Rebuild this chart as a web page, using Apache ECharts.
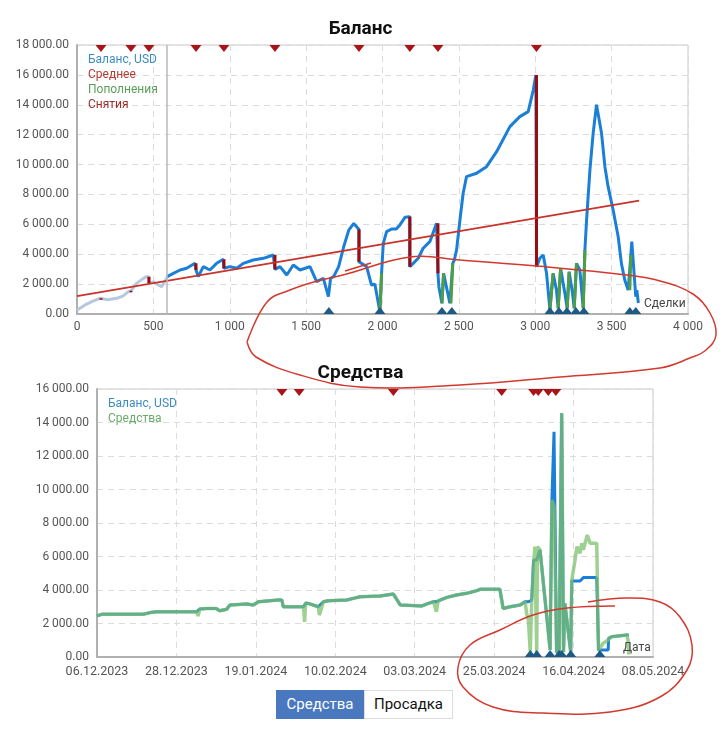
<!DOCTYPE html>
<html>
<head>
<meta charset="utf-8">
<script src="https://cdn.jsdelivr.net/npm/echarts@6/dist/echarts.min.js"></script>
<style>
html, body { margin: 0; padding: 0; background: #fff; }
#chart { width: 721px; height: 750px; }
.tabs { position: absolute; left: 276px; top: 690px; display: flex; font-family: Roboto, sans-serif; font-size: 15px; }
.tabs div { height: 29px; line-height: 29px; text-align: center; box-sizing: border-box; }
.tabs .on { width: 88px; background: #4a78bf; color: #fff; }
.tabs .off { width: 89px; background: #fff; color: #111; border: 1px solid #ddd; line-height: 27px; }
</style>
</head>
<body>
<div id="chart"></div>
<div class="tabs"><div class="on">Средства</div><div class="off">Просадка</div></div>
<script>
// ---- Баланс (по сделкам) ----
var tradeX = [0, 30, 60, 100, 150, 157, 157, 200, 259, 300, 336, 353, 353, 390, 430, 456, 471, 471, 500, 532, 554, 587,
    590, 631, 675, 718, 772, 779, 779, 794, 827, 870, 914, 958, 962, 962, 1001, 1045, 1089, 1154, 1220, 1285, 1296, 1296,
    1329, 1373, 1416, 1460, 1525, 1569, 1613, 1646, 1660, 1680, 1713, 1746, 1779, 1812, 1846, 1846, 1852, 1896, 1928, 1950,
    1983, 1994, 2005, 2027, 2060, 2090, 2114, 2147, 2179, 2179, 2201, 2234, 2266, 2310, 2354, 2363, 2363, 2369, 2389, 2400,
    2441, 2448, 2460, 2470, 2485, 2507, 2528, 2550, 2616, 2648, 2681, 2747, 2834, 2899, 2954, 2987, 3004, 3008, 3009, 3030,
    3052, 3074, 3096, 3117, 3139, 3150, 3166, 3194, 3209, 3222, 3244, 3255, 3270, 3292, 3314, 3325, 3336, 3358, 3379, 3401,
    3434, 3456, 3477, 3510, 3543, 3564, 3586, 3608, 3619, 3626, 3632, 3645, 3658, 3665, 3675];
var tradeBalance = [270, 450, 650, 850, 1050, 1050, 950, 950, 1050, 1200, 1500, 1550, 1450, 2050, 2350, 2500, 2500, 2080, 2150, 1940, 1830, 2390,
    2500, 2720, 2945, 3057, 3390, 3390, 2950, 2500, 3170, 2945, 3390, 3660, 3660, 3057, 3170, 3057, 3390, 3615, 3725, 3950, 3950, 2990,
    3170, 2610, 3280, 2945, 3170, 2165, 2390, 1165, 2390, 2500, 3170, 4500, 5610, 6060, 5650, 3500, 3390, 3170, 1940, 2000,
    155, 2720, 4730, 5510, 5690, 5690, 5960, 6470, 6510, 3170, 3390, 3730, 4400, 4840, 6070, 6070, 2720, 1830, 715, 2720,
    715, 715, 3390, 3610, 4290, 6290, 8080, 9190, 9420, 9640, 9860, 10860, 12540, 13210, 13540, 14990, 16000, 16000, 3170, 3730,
    3950, 2720, 300, 2720, 1600, 380, 3060, 1380, 380, 2830, 1380, 380, 3390, 2945, 380, 4280, 6290, 9640, 12090, 14000,
    12090, 9860, 8520, 6960, 5170, 3390, 2280, 1600, 1600, 3950, 4840, 4730, 1160, 1600, 735];
var historyEnd = 590;               // серая граница истории
var avgTrades = [0, 3680];
var avgValues = [1200, 7590];
var depositStart = [1983, 2389, 2448, 3096, 3150, 3209, 3255, 3314, 3619];
var depositEnd = [1994, 2400, 2460, 3117, 3166, 3222, 3270, 3325, 3626];
var depositLow = [155, 715, 715, 300, 380, 380, 380, 380, 1600];
var depositHigh = [2720, 2720, 3390, 2720, 3060, 2830, 3390, 4280, 3950];
var withdrawTrades = [157, 353, 471, 779, 962, 1296, 1846, 2179, 2363, 3008];
var withdrawHigh = [1050, 1550, 2500, 3390, 3660, 3950, 5650, 6510, 6070, 16000];
var withdrawLow = [950, 1450, 2080, 2950, 3057, 2990, 3500, 3170, 2720, 3170];
var depositMarkTrades = [1649, 1983, 2389, 2454, 3096, 3155, 3207, 3266, 3318, 3619, 3658];

// ---- Средства (по датам) ----
var eqDates = ['2023-12-06', '2023-12-07 07', '2023-12-18 19', '2023-12-20 17', '2023-12-22 12', '2024-01-02 14', '2024-01-03',
    '2024-01-03 12', '2024-01-05 10', '2024-01-08', '2024-01-09', '2024-01-10 22', '2024-01-11 19', '2024-01-16 12', '2024-01-18 07',
    '2024-01-19 17', '2024-01-22 22', '2024-01-25 05', '2024-01-26 05', '2024-01-26 14', '2024-01-31 05', '2024-02-01 05',
    '2024-02-01 12', '2024-02-01 19', '2024-02-02 12', '2024-02-05 07', '2024-02-05 14', '2024-02-06 17', '2024-02-08',
    '2024-02-13 05', '2024-02-15', '2024-02-16 22', '2024-02-22 10', '2024-02-26 02', '2024-02-28', '2024-03-05', '2024-03-06 19',
    '2024-03-08 05', '2024-03-09', '2024-03-09 12', '2024-03-11 22', '2024-03-14 14', '2024-03-17 10', '2024-03-20 05',
    '2024-03-21 02', '2024-03-26 14', '2024-03-27 12', '2024-03-29 10', '2024-04-01 05', '2024-04-02 14', '2024-04-03',
    '2024-04-03 12', '2024-04-04', '2024-04-04 10', '2024-04-04 22', '2024-04-05 07', '2024-04-05 19', '2024-04-06',
    '2024-04-06 17', '2024-04-09 12', '2024-04-10', '2024-04-10 14', '2024-04-11 07', '2024-04-12', '2024-04-12 17',
    '2024-04-13 05', '2024-04-13 14', '2024-04-15 05', '2024-04-15 12', '2024-04-16 10', '2024-04-16 22', '2024-04-17 19',
    '2024-04-18 07', '2024-04-18 17', '2024-04-19 05', '2024-04-19 19', '2024-04-20 14', '2024-04-22 10', '2024-04-22 22',
    '2024-04-23 07', '2024-04-24 05', '2024-04-25 14', '2024-04-25 17', '2024-04-26 12', '2024-04-30 19', '2024-05-01 02',
    '2024-05-01 07'];
var eqBalance = [2450, 2550, 2550, 2650, 2700, 2700, 2700, 2870, 2900, 2900, 2760, 2850, 3100, 3160, 3100, 3300, 3360, 3400,
    3400, 3000, 3000, 3000, 3000, 3200, 3200, 3000, 3000, 3300, 3360, 3400, 3500, 3600, 3640, 3760, 3100, 3050, 3200, 3300,
    3300, 3350, 3560, 3700, 3800, 3960, 4040, 4040, 2900, 3000, 3100, 3300, 3300, 3300, 3300, 3400, 5790, 5790, 5790, 5790,
    6390, 420, 9370, 13450, 300, 300, 14550, 300, 3200, 300, 4540, 4540, 4540, 4540, 4540, 4740, 4740, 4740, 4740, 4740,
    420, 420, 420, 420, 1110, 1210, 1310, 1310, 1310];
var eqEquity = [2450, 2550, 2550, 2650, 2700, 2700, 2450, 2870, 2900, 2900, 2760, 2850, 3100, 3160, 3100, 3300, 3360, 3400,
    3380, 3000, 3000, 3000, 2100, 3250, 3200, 3000, 2500, 3300, 3360, 3400, 3500, 3600, 3640, 3760, 3100, 3050, 3200, 3300,
    2700, 3350, 3560, 3700, 3800, 3960, 4040, 4040, 2900, 3000, 3100, 3300, 2600, 2200, 320, 3400, 5500, 6590, 300, 6590,
    6390, 420, 9370, 9000, 300, 300, 14550, 300, 3200, 300, 4600, 5790, 6590, 6200, 6790, 6400, 6400, 7280, 6790, 6790,
    400, 520, 820, 1010, 1110, 1210, 1310, 1000, 150];
var eqWithdrawDates = ['2024-01-26 05', '2024-01-31', '2024-02-26 02', '2024-03-27 02', '2024-04-04 22', '2024-04-06 05',
    '2024-04-09', '2024-04-11 02'];
var eqDepositDates = ['2024-04-04', '2024-04-05 19', '2024-04-09 12', '2024-04-12', '2024-04-12 17', '2024-04-15 05',
    '2024-04-23 07'];
var dateStart = '2023-12-06';
var dateEnd = '2024-05-08';
var dateStepDays = 22;

// ---- helpers ----
function pad(n) { return n < 10 ? '0' + n : '' + n; }
function spaced(s) { return s.replace(/\B(?=(\d{3})+(?!\d))/g, ' '); }
function fmtMoney(v) { return spaced(v.toFixed(2)); }
var t0 = parseDate(dateStart);
function parseDate(s) {
    var p = s.split(' '), d = p[0].split('-');
    return Date.UTC(+d[0], +d[1] - 1, +d[2], p[1] ? +p[1] : 0);
}
function dayOf(s) { return (parseDate(s) - t0) / 864e5; }
function fmtDate(v) {
    var d = new Date(t0 + Math.round(v) * 864e5);
    return pad(d.getUTCDate()) + '.' + pad(d.getUTCMonth() + 1) + '.' + d.getUTCFullYear();
}

var chart = echarts.init(document.getElementById('chart'));

var balancePts = tradeX.map(function (x, i) { return [x, tradeBalance[i]]; });
var lightPts = balancePts.filter(function (p) { return p[0] <= historyEnd; });
var darkPts = balancePts.filter(function (p) { return p[0] >= historyEnd; });
var eqBalPts = eqDates.map(function (d, i) { return [dayOf(d), eqBalance[i]]; });
var eqEqPts = eqDates.map(function (d, i) { return [dayOf(d), eqEquity[i]]; });
var dayMax = dayOf(dateEnd);

// отдельные короткие отрезки пополнений и снятий
function segment(name, color, a, b) {
    return {
        name: name, type: 'line', xAxisIndex: 0, yAxisIndex: 0, data: [a, b], z: 3,
        showSymbol: false, silent: true, lineStyle: { color: color, width: 3 }
    };
}
var depositSeries = depositStart.map(function (x, i) {
    return segment('Пополнения', '#4f9e43', [x, depositLow[i]], [depositEnd[i], depositHigh[i]]);
});
var withdrawSeries = withdrawTrades.map(function (x, i) {
    return segment('Снятия', '#9c0c0c', [x, withdrawHigh[i]], [x, withdrawLow[i]]);
});

var labelStyle = { color: '#555', fontSize: 12, fontFamily: 'Roboto' };
var split = { show: true, lineStyle: { color: '#dcdcdc', type: [6, 5] } };
var axisLn = { lineStyle: { color: '#b0b0b0', width: 2 } };
var red = '#d2392f';

var option = {
    animation: false,
    title: [
        { text: 'Баланс', left: 'center', top: 15, textStyle: { fontSize: 19, fontWeight: 'bold', color: '#111', fontFamily: 'Roboto' } },
        { text: 'Средства', left: 'center', top: 359, textStyle: { fontSize: 19, fontWeight: 'bold', color: '#111', fontFamily: 'Roboto' } }
    ],
    legend: [
        {
            left: 78, top: 49, orient: 'vertical', icon: 'none', itemWidth: 0, itemHeight: 0, itemGap: 3,
            textStyle: { fontSize: 12, fontFamily: 'Roboto' }, selectedMode: false,
            data: [
                { name: 'Баланс, USD', textStyle: { color: '#3d8cbf' } },
                { name: 'Среднее', textStyle: { color: '#b23a33' } },
                { name: 'Пополнения', textStyle: { color: '#5b9e5b' } },
                { name: 'Снятия', textStyle: { color: '#9e2a2a' } }
            ]
        },
        {
            left: 98, top: 393, orient: 'vertical', icon: 'none', itemWidth: 0, itemHeight: 0, itemGap: 3,
            textStyle: { fontSize: 12, fontFamily: 'Roboto' }, selectedMode: false,
            data: [
                { name: 'Баланс, USD ', textStyle: { color: '#3d8cbf' } },
                { name: 'Средства', textStyle: { color: '#6aaa6a' } }
            ]
        }
    ],
    grid: [
        { left: 77, top: 45, width: 611, height: 269, show: true, borderColor: '#c8c8c8', borderWidth: 1 },
        { left: 97, top: 389, width: 556, height: 268, show: true, borderColor: '#c8c8c8', borderWidth: 1 }
    ],
    xAxis: [
        {
            type: 'value', gridIndex: 0, min: 0, max: 4000, interval: 500,
            axisLine: axisLn, axisTick: { show: false }, splitLine: split,
            axisLabel: Object.assign({ margin: 7, formatter: function (v) { return spaced(String(v)); } }, labelStyle)
        },
        {
            type: 'value', gridIndex: 1, min: 0, max: dayMax, interval: dateStepDays,
            axisLine: axisLn, axisTick: { show: false }, splitLine: split,
            axisLabel: Object.assign({}, labelStyle, { margin: 8, fontSize: 12.5, formatter: fmtDate })
        }
    ],
    yAxis: [
        {
            type: 'value', gridIndex: 0, min: 0, max: 18000, interval: 2000,
            axisLine: Object.assign({ show: true }, axisLn), axisTick: { show: false }, splitLine: split,
            axisLabel: Object.assign({ margin: 8, formatter: fmtMoney }, labelStyle)
        },
        {
            type: 'value', gridIndex: 1, min: 0, max: 16000, interval: 2000,
            axisLine: Object.assign({ show: true }, axisLn), axisTick: { show: false }, splitLine: split,
            axisLabel: Object.assign({ margin: 8, formatter: fmtMoney }, labelStyle)
        }
    ],
    series: [
        {
            name: 'Баланс, USD', type: 'line', xAxisIndex: 0, yAxisIndex: 0, data: lightPts,
            showSymbol: false, lineStyle: { color: '#b5c8dd', width: 3 }, itemStyle: { color: '#3d8cbf' },
            markLine: {
                silent: true, symbol: 'none', label: { show: false },
                lineStyle: { color: '#b8b8b8', width: 1.5, type: 'solid' },
                data: [{ xAxis: historyEnd }]
            }
        },
        {
            name: 'Баланс, USD', type: 'line', xAxisIndex: 0, yAxisIndex: 0, data: darkPts,
            showSymbol: false, lineStyle: { color: '#1b7fd8', width: 3 }, itemStyle: { color: '#3d8cbf' }
        },
        {
            name: 'Среднее', type: 'line', xAxisIndex: 0, yAxisIndex: 0, z: 4,
            data: avgTrades.map(function (x, i) { return [x, avgValues[i]]; }),
            showSymbol: false, lineStyle: { color: '#c8332c', width: 1.8 }, itemStyle: { color: '#b23a33' }
        },
        {
            type: 'scatter', xAxisIndex: 0, yAxisIndex: 0, silent: true, z: 5,
            data: withdrawTrades.map(function (x) { return [x, 18000]; }),
            symbol: 'triangle', symbolRotate: 180, symbolSize: [11, 7], symbolOffset: [0, 3.5],
            itemStyle: { color: '#a8141a', opacity: 1 }
        },
        {
            type: 'scatter', xAxisIndex: 0, yAxisIndex: 0, silent: true, z: 5,
            data: depositMarkTrades.map(function (x) { return [x, 0]; }),
            symbol: 'triangle', symbolSize: [11, 7], symbolOffset: [0, -3.5],
            itemStyle: { color: '#1d5b86', opacity: 1 }
        },
        {
            name: 'Баланс, USD ', type: 'line', xAxisIndex: 1, yAxisIndex: 1, data: eqBalPts,
            showSymbol: false, lineStyle: { color: '#1b7fd8', width: 3 }, itemStyle: { color: '#3d8cbf' }
        },
        {
            name: 'Средства', type: 'line', xAxisIndex: 1, yAxisIndex: 1, data: eqEqPts,
            showSymbol: false, lineStyle: { color: '#7cc06c', width: 3.5, opacity: 0.75 }, itemStyle: { color: '#6aaa6a' }
        },
        {
            type: 'scatter', xAxisIndex: 1, yAxisIndex: 1, silent: true, z: 5,
            data: eqWithdrawDates.map(function (d) { return [dayOf(d), 16000]; }),
            symbol: 'triangle', symbolRotate: 180, symbolSize: [11, 7], symbolOffset: [0, 3.5],
            itemStyle: { color: '#a8141a', opacity: 1 }
        },
        {
            type: 'scatter', xAxisIndex: 1, yAxisIndex: 1, silent: true, z: 5,
            data: eqDepositDates.map(function (d) { return [dayOf(d), 0]; }),
            symbol: 'triangle', symbolSize: [11, 7], symbolOffset: [0, -3.5],
            itemStyle: { color: '#1d5b86', opacity: 1 }
        }
    ].concat(depositSeries, withdrawSeries),
    graphic: [
        { type: 'text', left: 644, top: 298, z: 10, style: { text: 'Сделки', fill: '#444', font: '12px Roboto' } },
        { type: 'text', left: 623, top: 642, z: 10, style: { text: 'Дата', fill: '#444', font: '12px Roboto' } },
        // пометки от руки
        {
            type: 'polyline', z: 20, silent: true,
            shape: { smooth: 0.4, points: [[247, 342], [267, 302], [290, 290], [317, 281], [343, 275], [410, 257], [460, 260],
                [537, 266], [627, 275], [660, 281], [693, 294], [710, 313], [716, 335], [706, 350], [690, 358], [660, 368],
                [560, 377], [460, 385], [360, 387], [300, 375], [256, 357], [247, 342]] },
            style: { stroke: red, lineWidth: 1.5, fill: null }
        },
        {
            type: 'polyline', z: 20, silent: true,
            shape: { points: [[345, 271], [371, 263]] },
            style: { stroke: red, lineWidth: 1.5, fill: null }
        },
        {
            type: 'polyline', z: 20, silent: true,
            shape: { smooth: 0.4, points: [[588, 602], [627, 598], [660, 602], [680, 617], [692, 645], [687, 670], [660, 697],
                [610, 712], [543, 713], [493, 707], [463, 687], [458, 667], [470, 645], [500, 630], [533, 615], [567, 608], [615, 606]] },
            style: { stroke: red, lineWidth: 1.5, fill: null }
        }
    ]
};

chart.setOption(option);
window.addEventListener('resize', chart.resize);
</script>
</body>
</html>
